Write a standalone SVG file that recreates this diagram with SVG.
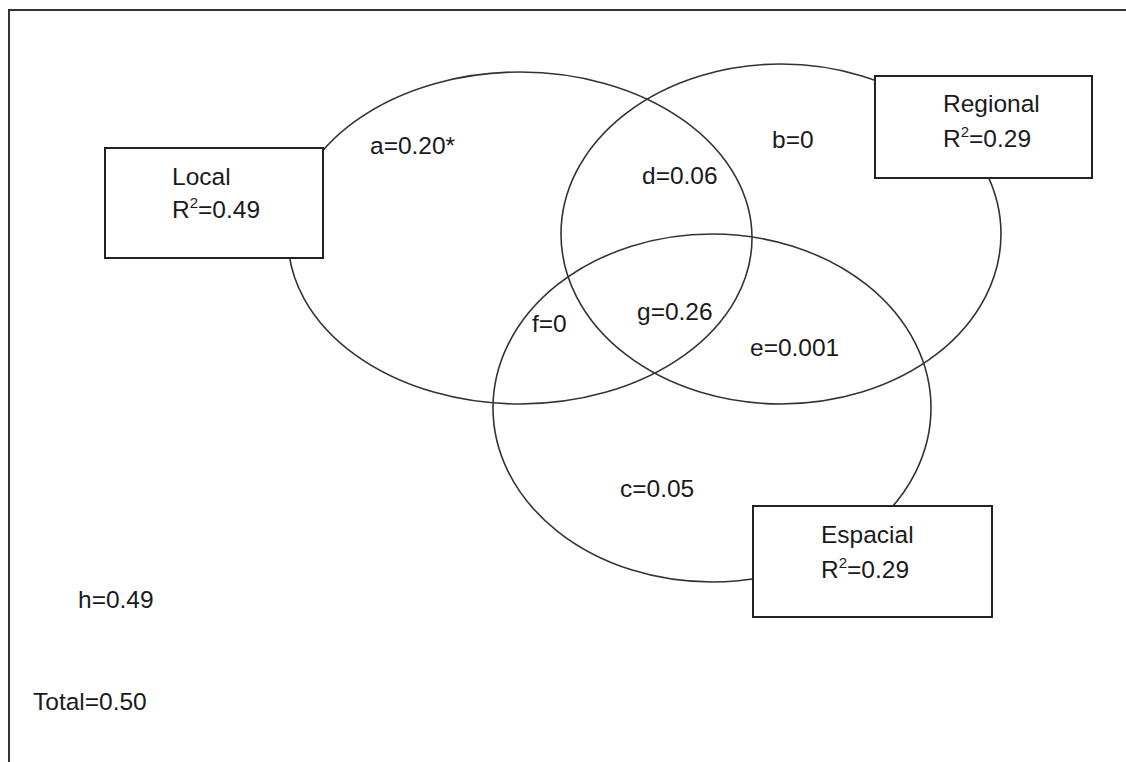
<svg xmlns="http://www.w3.org/2000/svg" width="1126" height="762" viewBox="0 0 1126 762">
<style>
.frame{fill:none;stroke:#333;stroke-width:2}
.ell{fill:none;stroke:#333;stroke-width:1.6}
.box{fill:#fff;stroke:#222;stroke-width:2}
text{font-family:"Liberation Sans",Arial,sans-serif;font-size:24.5px;fill:#1a1a1a}
.sup{font-size:15px}
</style>
<rect width="1126" height="762" fill="#fff"/>
<rect class="frame" x="9" y="10" width="1140" height="780"/>
<g id="connectors">
<ellipse class="ell" cx="520" cy="238" rx="232" ry="166"/>
<ellipse class="ell" cx="781" cy="234" rx="220" ry="170"/>
<ellipse class="ell" cx="712" cy="408" rx="219" ry="174"/>
</g>
<g id="local">
<rect class="box" x="105" y="148" width="218" height="110"/>
<text x="172" y="185">Local</text>
<text x="172" y="218">R<tspan class="sup" dy="-10">2</tspan><tspan dy="10">=0.49</tspan></text>
</g>
<g id="regional">
<rect class="box" x="875" y="76" width="217" height="102"/>
<text x="943" y="112">Regional</text>
<text x="943" y="147">R<tspan class="sup" dy="-10">2</tspan><tspan dy="10">=0.29</tspan></text>
</g>
<g id="espacial">
<rect class="box" x="753" y="506" width="239" height="111"/>
<text x="821" y="543">Espacial</text>
<text x="821" y="578">R<tspan class="sup" dy="-10">2</tspan><tspan dy="10">=0.29</tspan></text>
</g>
<g id="labels">
<text x="370" y="154">a=0.20*</text>
<text x="772" y="148">b=0</text>
<text x="642" y="184">d=0.06</text>
<text x="532" y="332">f=0</text>
<text x="637" y="320">g=0.26</text>
<text x="750" y="356">e=0.001</text>
<text x="620" y="497">c=0.05</text>
<text x="78" y="608">h=0.49</text>
<text x="33" y="710">Total=0.50</text>
</g>
</svg>
